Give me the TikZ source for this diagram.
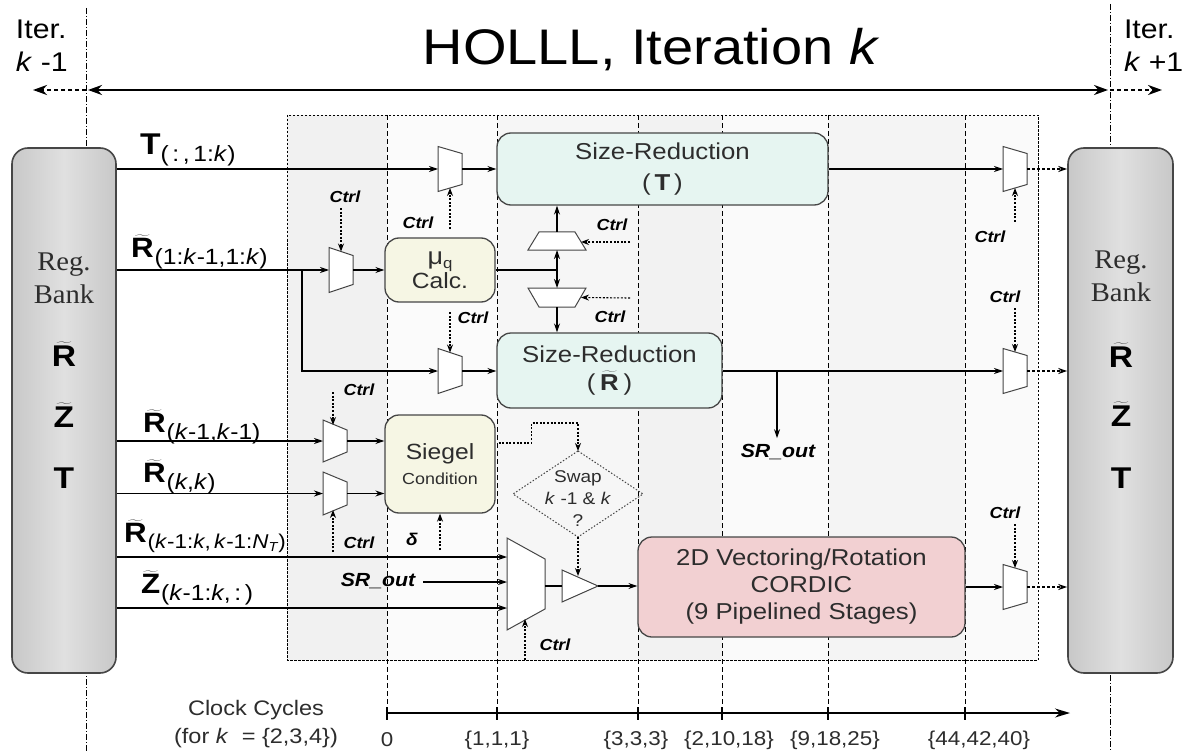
\documentclass[tikz,border=0pt]{standalone}
\usepackage{fontspec}
\setmainfont{Liberation Sans}[FakeStretch=1.12]
\newfontfamily\bankfont{Liberation Serif}[FakeStretch=1.06]
\usetikzlibrary{arrows.meta,calc}
\newcommand\FS[1]{\fontsize{#1}{#1}\selectfont}
\newcommand\FSL[2]{\fontsize{#1}{#2}\selectfont}
\newcommand\tlde[1]{$\widetilde{\hbox{\kern1pt\bfseries #1\kern1pt}}$}
\definecolor{srfill}{RGB}{230,245,241}
\definecolor{ylfill}{RGB}{246,246,228}
\definecolor{pkfill}{RGB}{242,208,210}
\definecolor{bankD}{RGB}{200,200,200}
\definecolor{bankM}{RGB}{224,224,224}
\definecolor{edge}{RGB}{70,70,70}
\definecolor{textc}{RGB}{45,45,45}
% vertical mux: name, x, y, w, h, slant
\newcommand\vmux[6]{%
  \node[muxbox, minimum width=#4, minimum height=#5] (#1) at (#2,#3) {};
  \draw[muxline] (#1.north west) -- (#1.south west) -- ($(#1.south east)+(0,-#6)$) -- ($(#1.north east)+(0,#6)$) -- cycle;}
% horizontal mux, narrow top
\newcommand\hmuxU[6]{%
  \node[muxbox, minimum width=#4, minimum height=#5] (#1) at (#2,#3) {};
  \draw[muxline] (#1.south west) -- (#1.south east) -- ($(#1.north east)+(-#6,0)$) -- ($(#1.north west)+(#6,0)$) -- cycle;}
% horizontal mux, narrow bottom
\newcommand\hmuxD[6]{%
  \node[muxbox, minimum width=#4, minimum height=#5] (#1) at (#2,#3) {};
  \draw[muxline] (#1.north west) -- (#1.north east) -- ($(#1.south east)+(-#6,0)$) -- ($(#1.south west)+(#6,0)$) -- cycle;}
\begin{document}
\begin{tikzpicture}[x=1pt,y=-1pt,
  txt/.style={inner sep=0pt, outer sep=0pt},
  box/.style={draw=edge, line width=1.3pt, rounded corners=14pt, inner sep=0pt, text=textc, align=center},
  bank/.style={draw=edge, line width=1.6pt, rounded corners=16pt, minimum height=525pt, inner sep=0pt, left color=bankD, right color=bankD, middle color=bankM},
  muxbox/.style={inner sep=0pt, outer sep=0pt, draw=none, rectangle},
  muxline/.style={draw=edge, fill=white, line width=1pt},
  sig/.style={line width=1.2pt, -{Stealth[length=9pt,width=6pt]}},
  wire/.style={line width=1.2pt},
  ctl/.style={line width=1.1pt, dash pattern=on 2pt off 1.6pt, -{Stealth[length=8pt,width=6pt]}},
  outa/.style={line width=1.1pt, dash pattern=on 3pt off 2pt, -{Stealth[length=9pt,width=6pt]}},
  ctrl/.style={txt, font=\FS{16}\bfseries\itshape},
  stage/.style={line width=1pt, dash pattern=on 5pt off 3pt},
  iterl/.style={line width=1pt, dash pattern=on 6pt off 2pt on 1pt off 2pt},
  lbl/.style={txt, anchor=base west},
  tick/.style={txt, font=\FS{20}, text=textc},
]
\useasboundingbox (0,0) rectangle (1190,751);
\fill[white] (0,0) rectangle (1190,751);
% stage shading
\fill[gray!7] (287,115) rectangle (1038,660);
\fill[gray!11] (287,115) rectangle (387,660);
\fill[gray!3] (387,115) rectangle (497,660);
\fill[gray!10] (638,115) rectangle (722,660);
\fill[gray!4] (722,115) rectangle (828,660);
\fill[gray!9] (828,115) rectangle (965,660);
\fill[gray!4] (965,115) rectangle (1038,660);
\draw[line width=0.9pt, dash pattern=on 2.5pt off 1.5pt] (287,115) rectangle (1038,660);
\foreach \x in {387,497,638,722,828,965} \draw[stage] (\x,115) -- (\x,713);
% iteration boundaries
\draw[iterl] (86,8) -- (86,751);
\draw[iterl] (1110,4) -- (1110,751);
\coordinate (aL) at (33,90);
\coordinate (aLm) at (86,90);
\coordinate (aRm) at (1110,90);
\coordinate (aR) at (1162,90);
\draw[line width=2.6pt, {Stealth[length=14pt,width=10pt]}-{Stealth[length=14pt,width=10pt]}] ($(aLm)+(2,0)$) -- ($(aRm)+(-2,0)$);
\draw[line width=2.4pt, dash pattern=on 4pt off 3pt, -{Stealth[length=14pt,width=10pt]}] (aLm) -- (aL);
\draw[line width=2.4pt, dash pattern=on 4pt off 3pt, -{Stealth[length=14pt,width=10pt]}] (aRm) -- (aR);
\node[txt] (title) at (651,50) {\FS{50}HOLLL, Iteration \textit{k}};
\node[txt, anchor=west, align=left, font=\FSL{27}{33}] (itL) at (16,46) {Iter.\\\textit{k} -1};
\node[txt, anchor=west, align=left, font=\FSL{27}{33}] (itR) at (1124,46) {Iter.\\\textit{k} +1};
% register banks
\node[bank, minimum width=104pt] (bankL) at (64,410.5) {};
\node[bank, minimum width=105pt] (bankR) at (1120.5,410.5) {};
\node[txt, align=center, text=textc, font=\bankfont\FSL{27}{33}] (regL) at (64,278) {Reg.\\Bank};
\node[txt, align=center, text=textc, font=\bankfont\FSL{27}{33}] (regR) at (1121,276) {Reg.\\Bank};
\node[txt, anchor=base] (bRL) at (64,366) {\FS{30}\tlde{R}};
\node[txt, anchor=base] (bZL) at (64,427) {\FS{30}\tlde{Z}};
\node[txt, anchor=base] (bTL) at (64,488) {\FS{30}\bfseries T};
\node[txt, anchor=base] (bRR) at (1121,367) {\FS{30}\tlde{R}};
\node[txt, anchor=base] (bZR) at (1121,426) {\FS{30}\tlde{Z}};
\node[txt, anchor=base] (bTR) at (1121,488) {\FS{30}\bfseries T};
% input labels
\node[lbl] (lblT) at (140,155) {\FS{30}\bfseries T\raisebox{-7pt}{\FS{22}\mdseries(\,:\,,\,1:\textit{k})}};
\node[lbl] (lblR1) at (130,257) {\FS{28}\tlde{R}\raisebox{-7pt}{\FS{22}(1:\textit{k}-1,1:\textit{k})}};
\node[lbl] (lblR2) at (142,432) {\FS{28}\tlde{R}\raisebox{-7pt}{\FS{22}(\textit{k}-1,\textit{k}-1)}};
\node[lbl] (lblR3) at (142,482) {\FS{28}\tlde{R}\raisebox{-7pt}{\FS{22}(\textit{k},\textit{k})}};
\node[lbl] (lblR4) at (123,542) {\FS{28}\tlde{R}\raisebox{-6pt}{\FS{20}(\textit{k}-1:\textit{k},\,\textit{k}-1:\textit{N}\raisebox{-3pt}{\FS{13}\textit{T}})}};
\node[lbl] (lblZ) at (140,593) {\FS{28}\tlde{Z}\raisebox{-7pt}{\FS{22}(\textit{k}-1:\textit{k},\,:\,)}};
% processing boxes
\node[box, fill=srfill, minimum width=331pt, minimum height=72pt, font=\FSL{23}{31}] (srT) at (662.5,169) {Size-Reduction\\(\,\textbf{T}\,)};
\node[box, fill=srfill, minimum width=225pt, minimum height=75pt, font=\FSL{23}{28}] (srR) at (609.5,370.5) {Size-Reduction\\(\,\tlde{R}\,)};
\node[box, fill=ylfill, minimum width=110pt, minimum height=64pt, font=\FSL{22}{23}] (mu) at (440,270) {\FS{24}μ\raisebox{-4pt}{\FS{15}q}\\Calc.};
\node[box, fill=ylfill, minimum width=110pt, minimum height=98pt, font=\FSL{22}{25}] (sieg) at (440,464) {Siegel\\\FS{16}Condition};
\node[box, fill=pkfill, minimum width=327pt, minimum height=100pt, font=\FSL{23}{27}] (cordic) at (801.5,587) {2D Vectoring/Rotation\\CORDIC\\(9 Pipelined Stages)};
% decision diamond
\node[muxbox, minimum width=130pt, minimum height=86pt] (dia) at (578,494) {};
\draw[line width=1pt, dash pattern=on 1.5pt off 1.8pt, draw=edge] (dia.north) -- (dia.east) -- (dia.south) -- (dia.west) -- cycle;
\node[txt, align=center, text=textc, font=\FSL{17}{22}] (diaT) at (578,499) {Swap\\\textit{k} -1 \& \textit{k}\\?};
% muxes
\vmux{muxT}{450}{169}{24}{45}{7}
\vmux{muxMu}{341}{270}{24}{45}{8}
\vmux{muxSR}{450}{371}{24}{45}{8}
\vmux{muxS1}{335}{441}{24}{42}{10}
\vmux{muxS2}{335}{493.5}{24}{43}{10}
\vmux{muxB}{526}{584}{38}{92}{21}
\vmux{rmT}{1015}{169}{24}{45}{7}
\vmux{rmR}{1015}{371}{24}{45}{7}
\vmux{rmC}{1015}{587}{24}{45}{7}
\hmuxU{hmU}{557}{241}{58}{18}{11}
\hmuxD{hmL}{557}{297.5}{58}{19}{11}
\node[muxbox, minimum width=36pt, minimum height=32pt] (buf) at (580,586) {};
\draw[muxline] (buf.north west) -- (buf.east) -- (buf.south west) -- cycle;
% junction coordinates
\coordinate (jR) at (302,270);
\coordinate (jmu) at (557,270);
\coordinate (jS) at (777,371);
\coordinate (bIn1) at (507,557);
\coordinate (bIn2) at (507,582);
\coordinate (bIn3) at (507,608);
% data connections
\draw[sig] (bankL.east |- muxT.west) -- (muxT.west);
\draw[sig] (muxT.east) -- (srT.west |- muxT.east);
\draw[sig] (srT.east |- rmT.west) -- (rmT.west);
\draw[outa] (rmT.east) -- (bankR.west |- rmT.east);
\draw[sig] (bankL.east |- muxMu.west) -- (muxMu.west);
\draw[sig] (jR) |- (muxSR.west);
\draw[sig] (muxMu.east) -- (mu.west |- muxMu.east);
\draw[wire] (mu.east |- jmu) -- (jmu);
\draw[sig] (jmu) -- (hmU.south);
\draw[sig] (jmu) -- (hmL.north);
\draw[sig] (hmU.north) -- (hmU.north |- srT.south);
\draw[sig] (hmL.south) -- (hmL.south |- srR.north);
\draw[sig] (muxSR.east) -- (srR.west |- muxSR.east);
\draw[sig] (srR.east |- rmR.west) -- (rmR.west);
\draw[outa] (rmR.east) -- (bankR.west |- rmR.east);
\node[txt, font=\FS{19}\bfseries\itshape] (lblSRo) at (778,452) {SR\_out};
\draw[sig] (jS) -- ($(lblSRo.north)+(-1,-6)$);
\draw[sig] (bankL.east |- muxS1.west) -- (muxS1.west);
\draw[sig] (bankL.east |- muxS2.west) -- (muxS2.west);
\draw[sig] (muxS1.east) -- (sieg.west |- muxS1.east);
\draw[sig] (muxS2.east) -- (sieg.west |- muxS2.east);
\draw[sig] (bankL.east |- bIn1) -- (bIn1);
\draw[sig] (bankL.east |- bIn3) -- (bIn3);
\node[txt, font=\FS{19}\bfseries\itshape] (lblSRi) at (378,581) {SR\_out};
\draw[sig] ($(lblSRi.east |- bIn2)+(8,0)$) -- (bIn2);
\draw[wire] (muxB.east |- buf.west) -- (buf.west);
\draw[sig] (buf.east) -- (cordic.west |- buf.east);
\draw[sig] (cordic.east |- rmC.west) -- (rmC.west);
\draw[outa] (rmC.east) -- (bankR.west |- rmC.east);
% Siegel -> decision -> buffer
\draw[ctl] ($(sieg.east)+(3,-21)$) -- ++(33,0) -- ++(0,-20) -| (dia.north);
\draw[ctl] (dia.south) -- ($(dia.south |- buf.north)+(0,6)$);
% control signals
\node[ctrl] (cTl) at (418,223) {Ctrl};
\coordinate (cT) at (450,229);
\draw[ctl] (cT) -- ($(muxT.south)+(0,-3.5)$);
\node[ctrl] (cMl) at (345,197) {Ctrl};
\coordinate (cM) at (341,208);
\draw[ctl] (cM) -- ($(muxMu.north)+(0,4)$);
\node[ctrl] (cSl) at (473,318) {Ctrl};
\coordinate (cS) at (450,312);
\draw[ctl] (cS) -- ($(muxSR.north)+(0,4)$);
\node[ctrl] (cUl) at (612,225) {Ctrl};
\coordinate (cU) at (630,242);
\draw[ctl] (cU) -- ($(hmU.east)+(-5,1)$);
\node[ctrl] (cLl) at (610,317) {Ctrl};
\coordinate (cL) at (630,298);
\draw[ctl] (cL) -- ($(hmL.east)+(-5,0)$);
\node[ctrl] (c1l) at (359,390) {Ctrl};
\coordinate (c1) at (333,392);
\draw[ctl] (c1) -- ($(c1 |- muxS1.north)+(0,5)$);
\node[ctrl] (c2l) at (359,543) {Ctrl};
\coordinate (c2) at (333,552);
\draw[ctl] (c2) -- ($(c2 |- muxS2.south)+(0,-5)$);
\node[txt, font=\FS{17}\bfseries\itshape] (dl) at (412,539) {δ};
\coordinate (cd) at (440,550);
\draw[ctl] (cd) -- (cd |- sieg.south);
\node[ctrl] (cBl) at (555,645) {Ctrl};
\coordinate (cB) at (525,660);
\draw[ctl] (cB) -- ($(cB |- muxB.south)+(0,-11)$);
\node[ctrl] (cRTl) at (990,237) {Ctrl};
\coordinate (cRT) at (1015,222);
\draw[ctl] (cRT) -- ($(rmT.south)+(0,-3.5)$);
\node[ctrl] (cRRl) at (1005,297) {Ctrl};
\coordinate (cRR) at (1015,308);
\draw[ctl] (cRR) -- ($(rmR.north)+(0,3.5)$);
\node[ctrl] (cRCl) at (1005,513) {Ctrl};
\coordinate (cRC) at (1015,524);
\draw[ctl] (cRC) -- ($(rmC.north)+(0,3.5)$);
% clock cycle axis
\coordinate (ax0) at (387,713);
\coordinate (axE) at (1070,713);
\draw[line width=1.3pt, -{Stealth[length=15pt,width=9pt]}] (ax0) -- (axE);
\foreach \x in {387,497,638,722,828,965} \draw[line width=2pt] (\x,707) -- (\x,720);
\node[txt, align=center, text=textc, font=\FSL{21}{28}] (cc) at (256,724) {Clock Cycles\\(for \textit{k} ~= \{2,3,4\})};
\node[tick] (t0) at (387,740) {0};
\node[tick] (t1) at (497,740) {\{1,1,1\}};
\node[tick] (t2) at (636,740) {\{3,3,3\}};
\node[tick] (t3) at (729,740) {\{2,10,18\}};
\node[tick] (t4) at (835,740) {\{9,18,25\}};
\node[tick] (t5) at (979,740) {\{44,42,40\}};
\end{tikzpicture}
\end{document}
